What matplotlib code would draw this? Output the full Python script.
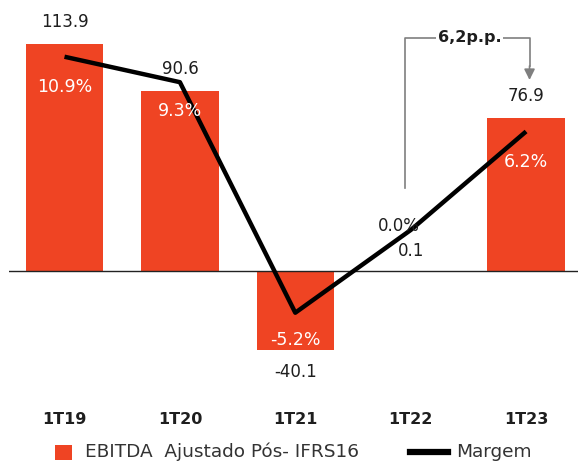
import matplotlib
matplotlib.use("Agg")
import matplotlib.pyplot as plt
from matplotlib.patches import Rectangle
from matplotlib.lines import Line2D
import numpy as np

# data
periods = ["1T19", "1T20", "1T21", "1T22", "1T23"]
ebitda = [113.9, 90.6, -40.1, 0.1, 76.9]
margem = [10.9, 9.3, -5.2, 0.0, 6.2]
ebitda_labels = ["113.9", "90.6", "-40.1", "0.1", "76.9"]
margem_labels = ["10.9%", "9.3%", "-5.2%", "0.0%", "6.2%"]

BAR = "#EF4423"
GRAY = "#7F7F7F"
TXT = "#1E1E1E"
W, H = 578, 463

fig = plt.figure(figsize=(W / 100, H / 100), dpi=100)
# axes spans pixel x 9..578, pixel y 10..400
ax = fig.add_axes([9 / W, (H - 400) / H, (W - 9) / W, 390 / H])
ax2 = ax.twinx()

x = np.arange(len(periods))
ax.bar(x, ebitda, width=0.67, color=BAR, zorder=2)
ax.axhline(0, color="#222222", lw=1, zorder=3)
ax2.plot(x, margem, color="black", lw=3.2, zorder=4, solid_capstyle="butt")

ax.set_xlim(-0.481, 4.45)
ax.set_ylim(-65.0, 131.1)
ax2.set_ylim(-10.69, 13.84)

for a in (ax, ax2):
    for s in a.spines.values():
        s.set_visible(False)
    a.set_yticks([])
ax2.set_zorder(ax.get_zorder() + 1)
ax2.patch.set_visible(False)

ax.set_xticks(x)
ax.set_xticklabels(periods, fontsize=11.5, fontweight="bold", color=TXT)
ax.tick_params(axis="x", length=0, pad=9)

# value labels (EBITDA)
px = 1 / 1.988  # data units per pixel on primary axis
for i, (v, t) in enumerate(zip(ebitda, ebitda_labels)):
    if i == 3:
        ax.text(i, v + 20 * px, t, ha="center", va="center", fontsize=12, color=TXT)
    elif v >= 0:
        ax.text(i, v + 22 * px, t, ha="center", va="center", fontsize=12, color=TXT)
    else:
        ax.text(i, v - 22 * px, t, ha="center", va="center", fontsize=12, color=TXT)

# margin labels
offs = [-30, -29, -27, None, -31]
for i, (v, t) in enumerate(zip(margem, margem_labels)):
    if i == 3:
        ax2.text(i - 0.1, v + 4 / 15.9, t, ha="center", va="center", fontsize=12, color=TXT, zorder=5)
    else:
        ax2.text(i, v + offs[i] / 15.9, t, ha="center", va="center", fontsize=12.5, color="white", zorder=5)

# 6,2p.p. bracket
y_top = (270.7 - 38) * px
y_bot = (270.7 - 188) * px
y_tip = (270.7 - 80) * px
xl, xr = 2.95, 4.03
ax.plot([xl, xl, xr, xr], [y_bot, y_top, y_top, (270.7 - 66) * px], color=GRAY, lw=1.2, zorder=5, clip_on=False)
ax.annotate("", xy=(xr, y_tip), xytext=(xr, (270.7 - 66) * px),
            arrowprops=dict(arrowstyle="-|>", color=GRAY, lw=1.2, mutation_scale=16, shrinkA=0, shrinkB=0))
ax.text((xl + xr) / 2 + 0.02, y_top, "6,2p.p.", ha="center", va="center", fontsize=11.5,
        fontweight="bold", color=TXT, zorder=6,
        bbox=dict(facecolor="white", edgecolor="none", pad=1))

# legend, laid out by hand in figure pixels
ly = (H - 452) / H
fig.patches.append(Rectangle((55 / W, (H - 460) / H), 17 / W, 15 / H, transform=fig.transFigure,
                             facecolor=BAR, edgecolor="none"))
fig.text(85 / W, ly, "EBITDA  Ajustado Pós- IFRS16", ha="left", va="center", fontsize=13.3, color="#333333")
fig.lines.append(Line2D([410 / W, 448 / W], [ly, ly], transform=fig.transFigure, color="black", lw=4.5))
fig.text(456 / W, ly, "Margem", ha="left", va="center", fontsize=13.3, color="#333333")

fig.savefig("out.png", dpi=100)
